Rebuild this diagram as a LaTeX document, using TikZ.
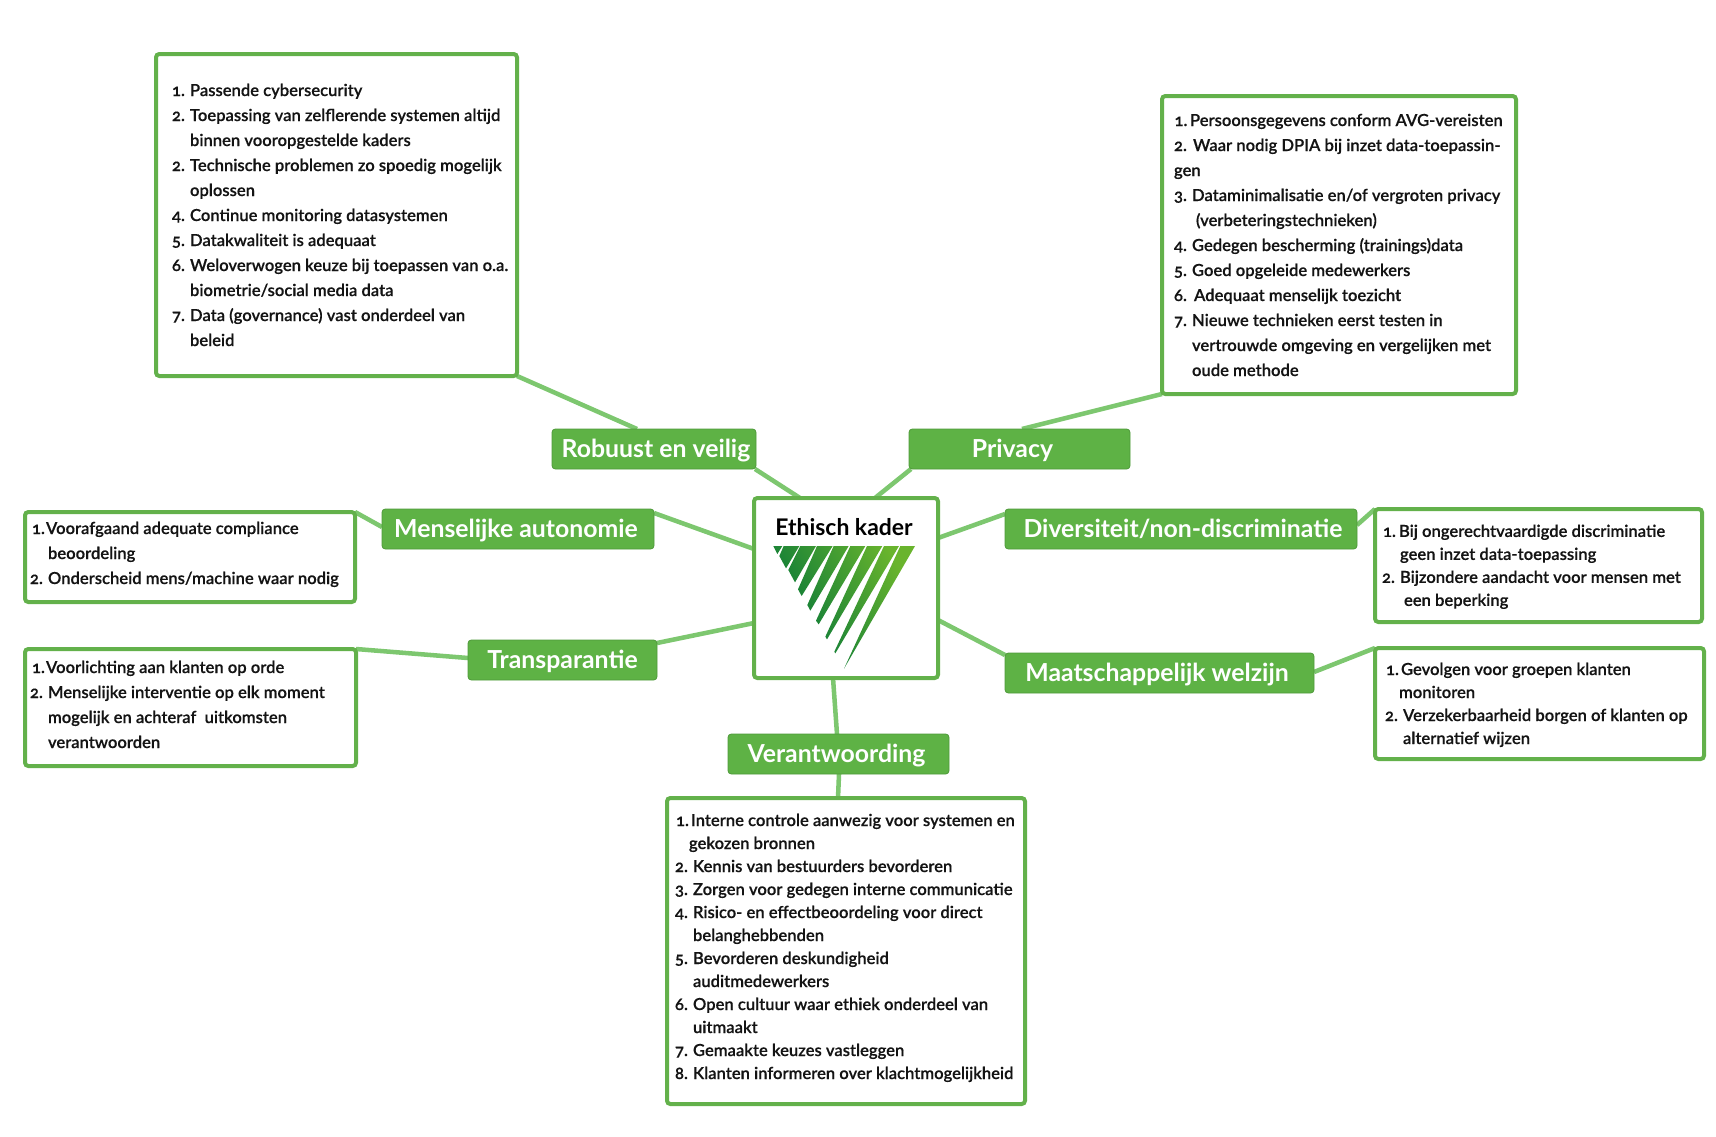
\documentclass[tikz,border=0pt]{standalone}
\usepackage{fontspec}
\usetikzlibrary{backgrounds}
\setmainfont{Lato Semibold}[Numbers=OldStyle,RawFeature={embolden=0.3}]
\newfontfamily\headf{Lato Bold}
\newdimen\pxu \pxu=0.75pt
\definecolor{boxgreen}{HTML}{63B14B}
\definecolor{labgreen}{HTML}{5EB245}
\definecolor{labedge}{HTML}{4F9A3B}
\definecolor{conngreen}{HTML}{7DC76F}
\definecolor{gd}{HTML}{00733A}
\definecolor{gm}{HTML}{068536}
\definecolor{gl}{HTML}{69B42D}
\newcommand\li[4]{\strut\makebox[0pt][l]{\hspace*{#1\pxu}#2}\hspace*{#3\pxu}#4}
\tikzset{
 textbox/.style={draw=boxgreen,line width=3pt,fill=white,rounded corners=2.5pt,inner sep=0,outer sep=0,anchor=north west},
 lab/.style={draw=labedge,line width=0.6pt,fill=labgreen,rounded corners=2.5pt,inner sep=0,outer sep=0,anchor=north west,text=white,text height=17pt,text depth=3.8pt,font=\headf\fontsize{18.6}{22}\selectfont},
 conn/.style={draw=conngreen,line width=3.4pt},
 body/.style={inner sep=0,outer sep=0,anchor=north west,align=left,text=black!92},
 wide/.style={body,font=\fontsize{12.45}{18.75}\selectfont},
 tight/.style={body,font=\fontsize{12.45}{17.25}\selectfont},
}
\begin{document}
\begin{tikzpicture}[x=0.75pt,y=-0.75pt]
\useasboundingbox (0,0) rectangle (1716,1136);
% centre
\node[textbox,minimum width=184\pxu,minimum height=180\pxu] (ctr) at (754,498) {};
\node[inner sep=0,outer sep=0,anchor=base,font=\headf\fontsize{17.2}{20}\selectfont,text=black] (ctitle) at (844,535) {Ethisch kader};
\begin{scope}[shift={(700,440)},x=0.25pt,y=-0.25pt]
\shade[left color=gd,middle color=gm,right color=gl,shading angle=120] (220,318)--(247,318)--(232,342)--cycle
 (251,318)--(298,318)--(258,385)--(238,348)--cycle
 (301,318)--(348,318)--(285,427)--(265,390)--cycle
 (351,318)--(398,318)--(305,468)--(294,448)--cycle
 (401,318)--(446,318)--(331,512)--(322,495)--cycle
 (451,318)--(496,318)--(356,553)--(348,542)--cycle
 (501,318)--(547,318)--(381,598)--(376,590)--cycle
 (552,318)--(597,318)--(406,640)--(403,635)--cycle
 (601,318)--(645,318)--(432,686)--cycle;
\end{scope}
% labels
\node[lab,minimum width=204\pxu,minimum height=40\pxu] (rob) at (552,429) {\hspace*{4\pxu}Robuust en veilig};
\node[lab,minimum width=221\pxu,minimum height=40\pxu] (pri) at (909,429) {Privacy\hspace*{14\pxu}};
\node[lab,minimum width=272\pxu,minimum height=40\pxu] (men) at (382,509) {Menselijke autonomie\hspace*{4\pxu}};
\node[lab,minimum width=352\pxu,minimum height=40\pxu] (div) at (1005,509) {\hspace*{4\pxu}Diversiteit/non-discriminatie};
\node[lab,minimum width=189\pxu,minimum height=40\pxu] (tra) at (468,640) {Transparantie};
\node[lab,minimum width=309\pxu,minimum height=40\pxu] (maa) at (1005,653) {Maatschappelijk welzijn\hspace*{5\pxu}};
\node[lab,minimum width=221\pxu,minimum height=40\pxu] (ver) at (728,734) {Verantwoording\hspace*{4\pxu}};
% text boxes
\node[textbox,minimum width=361\pxu,minimum height=322\pxu] (brob) at (156,54) {};
\node[textbox,minimum width=354\pxu,minimum height=298\pxu] (bpri) at (1162,96) {};
\node[textbox,minimum width=330\pxu,minimum height=90\pxu] (bmen) at (25,512) {};
\node[textbox,minimum width=331\pxu,minimum height=117\pxu] (btra) at (25,649) {};
\node[textbox,minimum width=327\pxu,minimum height=113\pxu] (bdiv) at (1375,509) {};
\node[textbox,minimum width=329\pxu,minimum height=111\pxu] (bmaa) at (1375,648) {};
\node[textbox,minimum width=358\pxu,minimum height=306\pxu] (bver) at (667,798) {};
% connectors
\begin{scope}[on background layer]
\draw[conn] (brob.south east) -- ([xshift=85\pxu]rob.north west);
\draw[conn] ([xshift=-1\pxu]rob.south east) -- ([xshift=46\pxu]ctr.north west);
\draw[conn] ([xshift=-63\pxu]ctr.north east) -- ([xshift=2\pxu]pri.south west);
\draw[conn] ([xshift=113\pxu]pri.north west) -- (bpri.south west);
\draw[conn] ([yshift=-4\pxu]men.north east) -- ([yshift=-51\pxu]ctr.north west);
\draw[conn] ([yshift=-18\pxu]men.north west) -- (bmen.north east);
\draw[conn] ([yshift=55\pxu]ctr.south west) -- ([yshift=-3\pxu]tra.north east);
\draw[conn] ([yshift=-18\pxu]tra.north west) -- (btra.north east);
\draw[conn] ([yshift=-40\pxu]ctr.north east) -- ([yshift=-5\pxu]div.north west);
\draw[conn] ([yshift=-16\pxu]div.north east) -- (bdiv.north west);
\draw[conn] ([yshift=58\pxu]ctr.south east) -- ([yshift=-2\pxu]maa.north west);
\draw[conn] ([yshift=-19\pxu]maa.north east) -- (bmaa.north west);
\draw[conn] ([xshift=79\pxu]ctr.south west) -- ([xshift=109\pxu]ver.north west);
\draw[conn] ([xshift=111\pxu]ver.south west) -- ([xshift=171\pxu]bver.north west);
\end{scope}
% body texts
\node[wide] (trob) at (172,78.5) {%
\li{0}{1.}{18}{Passende cybersecurity}\\
\li{0}{2.}{18}{Toepassing van zelflerende systemen altijd}\\
\li{0}{}{18}{binnen vooropgestelde kaders}\\
\li{0}{2.}{18}{Technische problemen zo spoedig mogelijk}\\
\li{0}{}{18}{oplossen}\\
\li{0}{4.}{18}{Continue monitoring datasystemen}\\
\li{0}{5.}{18}{Datakwaliteit is adequaat}\\
\li{0}{6.}{18}{Weloverwogen keuze bij toepassen van o.a.}\\
\li{0}{}{18}{biometrie/social media data}\\
\li{0}{7.}{18}{Data (governance) vast onderdeel van}\\
\li{0}{}{18}{beleid}};
\node[wide] (tpri) at (1174,108.5) {%
\li{0.5}{1.}{16}{Persoonsgegevens conform AVG-vereisten}\\
\li{0}{2.}{19}{Waar nodig DPIA bij inzet data-toepassin-}\\
\li{0}{}{0}{gen}\\
\li{0}{3.}{18}{Dataminimalisatie en/of vergroten privacy}\\
\li{0}{}{22}{(verbeteringstechnieken)}\\
\li{0}{4.}{18}{Gedegen bescherming (trainings)data}\\
\li{0}{5.}{18}{Goed opgeleide medewerkers}\\
\li{0}{6.}{20}{Adequaat menselijk toezicht}\\
\li{0}{7.}{18}{Nieuwe technieken eerst testen in}\\
\li{0}{}{18}{vertrouwde omgeving en vergelijken met}\\
\li{0}{}{18}{oude methode}};
\node[wide] (tmen) at (30,516.5) {%
\li{2}{1.}{16}{Voorafgaand adequate compliance}\\
\li{0}{}{18}{beoordeling}\\
\li{0}{2.}{18}{Onderscheid mens/machine waar nodig}};
\node[wide] (ttra) at (30,655.5) {%
\li{2}{1.}{16}{Voorlichting aan klanten op orde}\\
\li{0}{2.}{18}{Menselijke interventie op elk moment}\\
\li{0}{}{18}{mogelijk en achteraf\ \ uitkomsten}\\
\li{0}{}{18}{verantwoorden}};
\node[tight] (tdiv) at (1382,520.8) {%
\li{1}{1.}{17}{Bij ongerechtvaardigde discriminatie}\\
\li{0}{}{18}{geen inzet data-toepassing}\\
\li{0}{2.}{18}{Bijzondere aandacht voor mensen met}\\
\li{0}{}{22}{een beperking}};
\node[tight] (tmaa) at (1385,658.9) {%
\li{1}{1.}{16}{Gevolgen voor groepen klanten}\\
\li{0}{}{14}{monitoren}\\
\li{0}{2.}{18}{Verzekerbaarheid borgen of klanten op}\\
\li{0}{}{18}{alternatief wijzen}};
\node[tight] (tver) at (675,809.9) {%
\li{1}{1.}{16}{Interne controle aanwezig voor systemen en}\\
\li{0}{}{14}{gekozen bronnen}\\
\li{0}{2.}{18}{Kennis van bestuurders bevorderen}\\
\li{0}{3.}{18}{Zorgen voor gedegen interne communicatie}\\
\li{0}{4.}{18}{Risico- en effectbeoordeling voor direct}\\
\li{0}{}{18}{belanghebbenden}\\
\li{0}{5.}{18}{Bevorderen deskundigheid}\\
\li{0}{}{18}{auditmedewerkers}\\
\li{0}{6.}{18}{Open cultuur waar ethiek onderdeel van}\\
\li{0}{}{18}{uitmaakt}\\
\li{0}{7.}{18}{Gemaakte keuzes vastleggen}\\
\li{0}{8.}{18}{Klanten informeren over klachtmogelijkheid}};
\end{tikzpicture}
\end{document}
